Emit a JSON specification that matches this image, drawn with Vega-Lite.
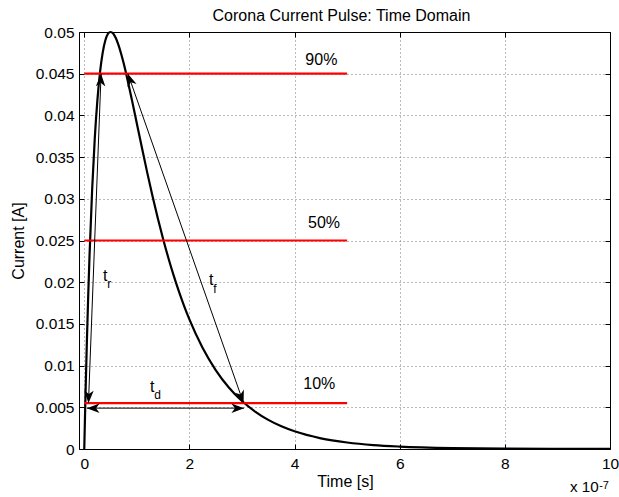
{
  "$schema": "https://vega.github.io/schema/vega-lite/v6.json",
  "width": 531,
  "height": 417,
  "autosize": {"type": "none"},
  "padding": {"left": 79, "top": 32, "right": 9, "bottom": 48},
  "background": "white",
  "title": {"text": "Corona Current Pulse: Time Domain", "fontSize": 16, "fontWeight": "normal", "baseline": "alphabetic", "offset": -12.3, "color": "black", "anchor": "middle", "frame": "group", "dx": -3, "font": "Liberation Sans"},
  "config": {
    "font": "Liberation Sans",
    "view": {"stroke": null},
    "axis": {"labelColor": "black", "titleColor": "black", "domainColor": "black", "tickColor": "black", "labelFontSize": 15.5, "titleFontSize": 16, "titleFontWeight": "normal", "domainWidth": 1, "tickWidth": 1, "labelFont": "Liberation Sans", "titleFont": "Liberation Sans"}
  },
  "datasets": {
    "curve": [
      {"t": 0, "current": 0}, {"t": 0.025, "current": 0.00683}, {"t": 0.05, "current": 0.01291}, {"t": 0.075, "current": 0.01834},
      {"t": 0.1, "current": 0.02313}, {"t": 0.15, "current": 0.03111}, {"t": 0.2, "current": 0.03724}, {"t": 0.25, "current": 0.04184},
      {"t": 0.3, "current": 0.04519}, {"t": 0.35, "current": 0.0475}, {"t": 0.4, "current": 0.04898}, {"t": 0.45, "current": 0.04978},
      {"t": 0.5, "current": 0.05}, {"t": 0.55, "current": 0.04982}, {"t": 0.6, "current": 0.04928}, {"t": 0.65, "current": 0.04846},
      {"t": 0.7, "current": 0.04743}, {"t": 0.75, "current": 0.04624}, {"t": 0.8, "current": 0.04491}, {"t": 0.9, "current": 0.04204},
      {"t": 1.0, "current": 0.03904}, {"t": 1.1, "current": 0.03602}, {"t": 1.2, "current": 0.03308}, {"t": 1.3, "current": 0.03028},
      {"t": 1.4, "current": 0.02765}, {"t": 1.5, "current": 0.02519}, {"t": 1.6, "current": 0.02291}, {"t": 1.7, "current": 0.02082},
      {"t": 1.8, "current": 0.0189}, {"t": 1.9, "current": 0.01714}, {"t": 2.0, "current": 0.01554}, {"t": 2.25, "current": 0.01214},
      {"t": 2.5, "current": 0.00947}, {"t": 2.75, "current": 0.00738}, {"t": 3.0, "current": 0.00575}, {"t": 3.25, "current": 0.00449},
      {"t": 3.5, "current": 0.00349}, {"t": 3.75, "current": 0.00272}, {"t": 4.0, "current": 0.00212}, {"t": 4.5, "current": 0.00128},
      {"t": 5.0, "current": 0.00078}, {"t": 5.5, "current": 0.00047}, {"t": 6.0, "current": 0.00029}, {"t": 7.0, "current": 0.000105},
      {"t": 8.0, "current": 0.000039}, {"t": 9.0, "current": 0.000014}, {"t": 10.0, "current": 0.000005}
    ],
    "levels": [
      {"level": "90%", "y": 0.045, "x_start": 0, "x_end": 5, "label_x": 4.51, "label_y": 0.04604},
      {"level": "50%", "y": 0.025, "x_start": 0, "x_end": 5, "label_x": 4.56, "label_y": 0.02646},
      {"level": "10%", "y": 0.0055, "x_start": 0, "x_end": 5, "label_x": 4.47, "label_y": 0.00716}
    ],
    "arrows": [
      {"arrow": "t_r", "x_from": 0.32, "y_from": 0.045, "x_to": 0.08, "y_to": 0.0055},
      {"arrow": "t_f", "x_from": 0.83, "y_from": 0.045, "x_to": 3.03, "y_to": 0.0055},
      {"arrow": "t_d", "x_from": 0.05, "y_from": 0.0049, "x_to": 3.04, "y_to": 0.0049}
    ],
    "heads": [
      {"arrow": "t_r", "end": "start", "x": 0.32, "y": 0.045},
      {"arrow": "t_r", "end": "end", "x": 0.08, "y": 0.0055},
      {"arrow": "t_f", "end": "start", "x": 0.83, "y": 0.045},
      {"arrow": "t_f", "end": "end", "x": 3.03, "y": 0.0055},
      {"arrow": "t_d", "end": "start", "x": 0.05, "y": 0.0049},
      {"arrow": "t_d", "end": "end", "x": 3.04, "y": 0.0049}
    ],
    "symbols": [
      {"name": "t_r", "main": "t", "sub": "r", "x": 0.4, "y": 0.02018},
      {"name": "t_f", "main": "t", "sub": "f", "x": 2.415, "y": 0.01967},
      {"name": "t_d", "main": "t", "sub": "d", "x": 1.295, "y": 0.00687}
    ],
    "multiplier": [
      {"base": "x 10", "exponent": "-7", "x": 9.785, "y": -0.00512}
    ]
  },
  "layer": [
    {
      "data": {"name": "curve"},
      "mark": {"type": "line", "color": "black", "strokeWidth": 2.2, "interpolate": "monotone"},
      "encoding": {
        "x": {"field": "t", "type": "quantitative", "scale": {"domain": [-0.1, 10], "nice": false, "zero": false},
          "axis": {"values": [0, 2, 4, 6, 8, 10], "format": "d", "grid": true, "gridDash": [1, 3], "gridColor": "#777777", "gridWidth": 1, "tickSize": -5, "labelPadding": 24.3, "labelBaseline": "alphabetic", "labelFlush": false, "labelOverlap": false, "title": "Time [s]", "titleX": 266, "titleY": 37.5, "titleBaseline": "alphabetic", "titleAnchor": "middle", "titleAlign": "center"}},
        "y": {"field": "current", "type": "quantitative", "scale": {"domain": [0, 0.05], "nice": false},
          "axis": {"values": [0, 0.005, 0.01, 0.015, 0.02, 0.025, 0.03, 0.035, 0.04, 0.045, 0.05], "format": "~g", "grid": true, "gridDash": [1, 3], "gridColor": "#777777", "gridWidth": 1, "tickSize": -5, "labelPadding": 10, "labelOverlap": false, "labelFlush": false, "title": "Current [A]", "titleX": -55.5, "titleY": 208.5, "titleAngle": 270, "titleBaseline": "alphabetic", "titleAlign": "center"}}
      }
    },
    {
      "data": {"name": "levels"},
      "mark": {"type": "rule", "color": "#ff0000", "strokeWidth": 2.2},
      "encoding": {
        "x": {"field": "x_start", "type": "quantitative", "axis": {"orient": "top", "values": [0, 2, 4, 6, 8, 10], "labels": false, "grid": false, "tickSize": -5, "title": null, "domain": true}},
        "x2": {"field": "x_end"},
        "y": {"field": "y", "type": "quantitative", "axis": {"orient": "right", "values": [0, 0.005, 0.01, 0.015, 0.02, 0.025, 0.03, 0.035, 0.04, 0.045, 0.05], "labels": false, "grid": false, "tickSize": -5, "title": null, "domain": true}}
      }
    },
    {
      "data": {"name": "levels"},
      "mark": {"type": "text", "fontSize": 16, "baseline": "alphabetic", "align": "center", "color": "black"},
      "encoding": {
        "x": {"field": "label_x", "type": "quantitative", "axis": null},
        "y": {"field": "label_y", "type": "quantitative", "axis": null},
        "text": {"field": "level"}
      }
    },
    {
      "data": {"name": "arrows"},
      "mark": {"type": "rule", "color": "black", "strokeWidth": 1},
      "encoding": {
        "x": {"field": "x_from", "type": "quantitative", "axis": null},
        "y": {"field": "y_from", "type": "quantitative", "axis": null},
        "x2": {"field": "x_to"},
        "y2": {"field": "y_to"}
      }
    },
    {
      "data": {"name": "heads"},
      "transform": [{"filter": "datum.arrow === 't_r' && datum.end === 'start'"}],
      "mark": {"type": "point", "shape": "M0,0L0.75,2L0,1.45L-0.75,2Z", "filled": true, "color": "black", "opacity": 1, "size": 160, "angle": 2.1, "strokeWidth": 0},
      "encoding": {"x": {"field": "x", "type": "quantitative", "axis": null}, "y": {"field": "y", "type": "quantitative", "axis": null}}
    },
    {
      "data": {"name": "heads"},
      "transform": [{"filter": "datum.arrow === 't_r' && datum.end === 'end'"}],
      "mark": {"type": "point", "shape": "M0,0L0.75,2L0,1.45L-0.75,2Z", "filled": true, "color": "black", "opacity": 1, "size": 160, "angle": 182.1, "strokeWidth": 0},
      "encoding": {"x": {"field": "x", "type": "quantitative", "axis": null}, "y": {"field": "y", "type": "quantitative", "axis": null}}
    },
    {
      "data": {"name": "heads"},
      "transform": [{"filter": "datum.arrow === 't_f' && datum.end === 'start'"}],
      "mark": {"type": "point", "shape": "M0,0L0.75,2L0,1.45L-0.75,2Z", "filled": true, "color": "black", "opacity": 1, "size": 160, "angle": 340.7, "strokeWidth": 0},
      "encoding": {"x": {"field": "x", "type": "quantitative", "axis": null}, "y": {"field": "y", "type": "quantitative", "axis": null}}
    },
    {
      "data": {"name": "heads"},
      "transform": [{"filter": "datum.arrow === 't_f' && datum.end === 'end'"}],
      "mark": {"type": "point", "shape": "M0,0L0.75,2L0,1.45L-0.75,2Z", "filled": true, "color": "black", "opacity": 1, "size": 160, "angle": 160.7, "strokeWidth": 0},
      "encoding": {"x": {"field": "x", "type": "quantitative", "axis": null}, "y": {"field": "y", "type": "quantitative", "axis": null}}
    },
    {
      "data": {"name": "heads"},
      "transform": [{"filter": "datum.arrow === 't_d' && datum.end === 'start'"}],
      "mark": {"type": "point", "shape": "M0,0L0.75,2L0,1.45L-0.75,2Z", "filled": true, "color": "black", "opacity": 1, "size": 160, "angle": 270, "strokeWidth": 0},
      "encoding": {"x": {"field": "x", "type": "quantitative", "axis": null}, "y": {"field": "y", "type": "quantitative", "axis": null}}
    },
    {
      "data": {"name": "heads"},
      "transform": [{"filter": "datum.arrow === 't_d' && datum.end === 'end'"}],
      "mark": {"type": "point", "shape": "M0,0L0.75,2L0,1.45L-0.75,2Z", "filled": true, "color": "black", "opacity": 1, "size": 160, "angle": 90, "strokeWidth": 0},
      "encoding": {"x": {"field": "x", "type": "quantitative", "axis": null}, "y": {"field": "y", "type": "quantitative", "axis": null}}
    },
    {
      "data": {"name": "symbols"},
      "mark": {"type": "text", "fontSize": 16, "baseline": "alphabetic", "align": "center", "color": "black"},
      "encoding": {
        "x": {"field": "x", "type": "quantitative", "axis": null},
        "y": {"field": "y", "type": "quantitative", "axis": null},
        "text": {"field": "main"}
      }
    },
    {
      "data": {"name": "symbols"},
      "mark": {"type": "text", "fontSize": 12, "baseline": "alphabetic", "align": "left", "color": "black", "dx": 2, "dy": 7.7},
      "encoding": {
        "x": {"field": "x", "type": "quantitative", "axis": null},
        "y": {"field": "y", "type": "quantitative", "axis": null},
        "text": {"field": "sub"}
      }
    },
    {
      "data": {"name": "multiplier"},
      "mark": {"type": "text", "fontSize": 15.2, "baseline": "alphabetic", "align": "right", "color": "black"},
      "encoding": {
        "x": {"field": "x", "type": "quantitative", "axis": null},
        "y": {"field": "y", "type": "quantitative", "axis": null},
        "text": {"field": "base"}
      }
    },
    {
      "data": {"name": "multiplier"},
      "mark": {"type": "text", "fontSize": 11, "baseline": "alphabetic", "align": "left", "color": "black", "dx": 0.5, "dy": -3},
      "encoding": {
        "x": {"field": "x", "type": "quantitative", "axis": null},
        "y": {"field": "y", "type": "quantitative", "axis": null},
        "text": {"field": "exponent"}
      }
    }
  ],
  "resolve": {"axis": {"x": "independent", "y": "independent"}}
}
